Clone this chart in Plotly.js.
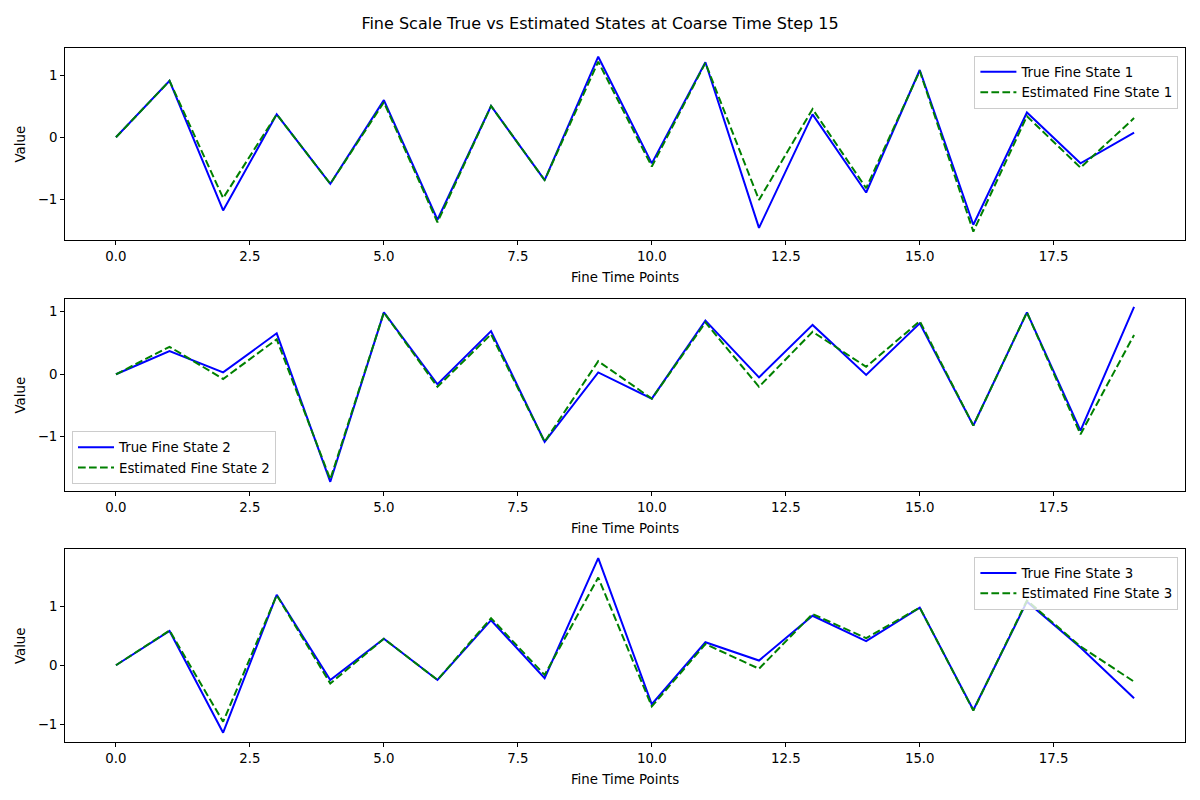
<!DOCTYPE html>
<html>
<head>
<meta charset="utf-8">
<script src="https://cdn.plot.ly/plotly-3.0.1.min.js"></script>
<style>body{margin:0;padding:0;background:#fff;}#chart{width:1200px;height:800px;}</style>
</head>
<body>
<div id="chart"></div>
<script>
const finePoints = [0,1,2,3,4,5,6,7,8,9,10,11,12,13,14,15,16,17,18,19];

const trueState1 = [0, 0.91, -1.18, 0.37, -0.75, 0.60, -1.33, 0.505, -0.69, 1.30, -0.42, 1.21, -1.46, 0.37, -0.89, 1.085, -1.41, 0.40, -0.42, 0.075];
const estState1  = [0, 0.91, -0.98, 0.37, -0.75, 0.565, -1.37, 0.505, -0.69, 1.22, -0.47, 1.20, -1.01, 0.456, -0.82, 1.07, -1.52, 0.34, -0.49, 0.31];

const trueState2 = [0, 0.373, 0.03, 0.656, -1.72, 0.99, -0.16, 0.69, -1.08, 0.03, -0.39, 0.86, -0.05, 0.79, -0.01, 0.815, -0.82, 0.99, -0.90, 1.08];
const estState2  = [0, 0.44, -0.075, 0.56, -1.68, 0.99, -0.20, 0.64, -1.08, 0.21, -0.39, 0.83, -0.20, 0.68, 0.12, 0.85, -0.82, 0.99, -0.96, 0.63];

const trueState3 = [0, 0.583, -1.146, 1.196, -0.25, 0.45, -0.25, 0.765, -0.22, 1.82, -0.663, 0.39, 0.08, 0.84, 0.41, 0.98, -0.76, 1.08, 0.30, -0.56];
const estState3  = [0, 0.59, -0.96, 1.19, -0.31, 0.45, -0.25, 0.80, -0.165, 1.49, -0.70, 0.36, -0.06, 0.87, 0.46, 0.98, -0.77, 1.10, 0.32, -0.28];

const xTickVals = [0, 2.5, 5, 7.5, 10, 12.5, 15, 17.5];
const xTickText = ["0.0","2.5","5.0","7.5","10.0","12.5","15.0","17.5"];
const yTickVals = [-1, 0, 1];
const yTickText = ["\u22121","0","1"];

const titleText = "Fine Scale True vs Estimated States at Coarse Time Step 15";
const xTitle = "Fine Time Points";
const yTitle = "Value";

const FONT = "DejaVu Sans, sans-serif";
const FS = 13.33;
const trueSeries = [trueState1, trueState2, trueState3];
const estSeries = [estState1, estState2, estState3];

const traces = [];
for (let i = 0; i < 3; i++) {
  const sfx = i === 0 ? "" : String(i + 1);
  const lg = i === 0 ? "legend" : "legend" + (i + 1);
  traces.push({
    x: finePoints, y: trueSeries[i], type: "scatter", mode: "lines",
    name: "True Fine State " + (i + 1),
    line: {color: "blue", width: 2},
    xaxis: "x" + sfx, yaxis: "y" + sfx, legend: lg
  });
  traces.push({
    x: finePoints, y: estSeries[i], type: "scatter", mode: "lines",
    name: "Estimated Fine State " + (i + 1),
    line: {color: "green", width: 2, dash: "7.7px,3.3px"},
    xaxis: "x" + sfx, yaxis: "y" + sfx, legend: lg
  });
}

const yDomains = [[0.7, 0.9396], [0.38625, 0.6259], [0.0721, 0.3134]];
const yRanges = [[-1.656, 1.435], [-1.867, 1.2], [-1.31, 1.97]];

function xAxis(anchor) {
  return {
    domain: [0.0542, 0.9875], range: [-0.95, 19.95], anchor: anchor,
    showline: true, linecolor: "black", linewidth: 1, mirror: true,
    ticks: "outside", ticklen: 4, tickcolor: "black", tickwidth: 1,
    tickvals: xTickVals, ticktext: xTickText,
    showgrid: false, zeroline: false, automargin: false,
    tickfont: {family: FONT, size: FS, color: "black"},
    title: {text: xTitle, font: {family: FONT, size: FS, color: "black"}, standoff: 9}
  };
}
function yAxis(anchor, i) {
  return {
    domain: yDomains[i], range: yRanges[i], anchor: anchor,
    showline: true, linecolor: "black", linewidth: 1, mirror: true,
    ticks: "outside", ticklen: 4, tickcolor: "black", tickwidth: 1,
    tickvals: yTickVals, ticktext: yTickText,
    showgrid: false, zeroline: false, automargin: false,
    tickfont: {family: FONT, size: FS, color: "black"},
    title: {text: yTitle, font: {family: FONT, size: FS, color: "black"}, standoff: 9}
  };
}

function legendBox(x, y, xa, ya) {
  return {
    x: x, y: y, xanchor: xa, yanchor: ya, xref: "paper", yref: "paper",
    bgcolor: "rgba(255,255,255,0.8)", bordercolor: "#cccccc", borderwidth: 1,
    font: {family: FONT, size: FS, color: "black"},
    itemwidth: 36, tracegroupgap: 0
  };
}

const layout = {
  width: 1200, height: 800,
  margin: {l: 0, r: 0, t: 0, b: 0},
  paper_bgcolor: "white", plot_bgcolor: "white",
  font: {family: FONT, size: FS, color: "black"},
  title: {text: titleText, x: 0.5, xanchor: "center", y: 0.971, yanchor: "middle",
          font: {family: FONT, size: 16, color: "black"}},
  xaxis: xAxis("y"), yaxis: yAxis("x", 0),
  xaxis2: xAxis("y2"), yaxis2: yAxis("x2", 1),
  xaxis3: xAxis("y3"), yaxis3: yAxis("x3", 2),
  legend: legendBox(0.982, 0.9304, "right", "top"),
  legend2: legendBox(0.06, 0.395, "left", "bottom"),
  legend3: legendBox(0.982, 0.3041, "right", "top"),
  showlegend: true
};

Plotly.newPlot("chart", traces, layout, {staticPlot: true, displayModeBar: false});
</script>
</body>
</html>
